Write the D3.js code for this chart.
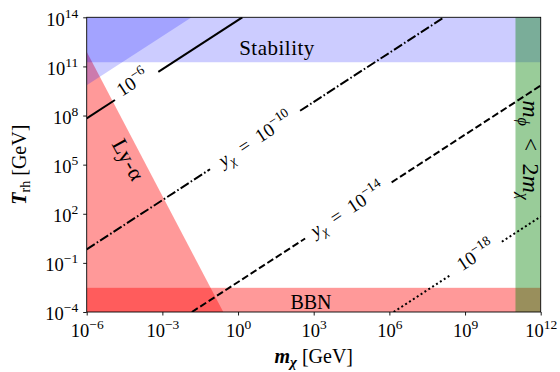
<!DOCTYPE html>
<html>
<head>
<meta charset="utf-8">
<script src="https://cdn.jsdelivr.net/npm/d3@7"></script>
<style>
  body { margin: 0; background: #fff; }
  text { font-family: "Liberation Serif", "DejaVu Serif", serif; fill: #000; }
</style>
</head>
<body>
<div id="chart"></div>
<script>
// tick exponents
var xTickExps = [-6, -3, 0, 3, 6, 9, 12];
var yTickExps = [14, 11, 8, 5, 2, -1, -4];

// excluded regions (GeV)
var stabilityT = [1.8e11, 1e14];
var bbnT = [1e-4, 3e-3];
var phiMassM = [1e11, 1e12];
var lyAlphaM = [1e-6, 0.26, 1e-6];
var lyAlphaT = [7.9e11, 1e-4, 1e-4];
var couplingM = [1e-6, 0.0145, 1e-6];
var couplingT = [7.2e9, 1e14, 1e14];

// contour lines of y_chi, log10 of m and T, two segments each (gap for label)
var lineExps = [-6, -10, -14, -18];
var lineLogM = [[-6, -4.88, -3.16, 0.17], [-6, -1.11, 2.46, 8.17], [-1.83, 2.66, 6.09, 12], [6.17, 8.41, 10.46, 12]];
var lineLogT = [[7.83, 8.95, 10.67, 14], [-0.17, 4.72, 8.29, 14], [-4, 0.49, 3.92, 9.83], [-4, -1.76, 0.29, 1.83]];
var lineDash = [null, "9.6,2.4,1.6,2.4", "7,3", "2,2.6"];
var lineWidth = [2, 2, 2, 2];
// label position (log10 m, log10 T) and whether "y_chi =" prefix is shown
var labelLogM = [-4.16, 0.71, 4.36, 9.44];
var labelLogT = [9.95, 6.5, 2.2, -0.6];
var labelPrefix = [false, true, true, false];

function main() {
    var width = 560, height = 372;
    var left = 86.7, right = 540.7, top = 17.3, bottom = 312;

    var svg = d3.select("#chart").append("svg")
        .attr("width", width)
        .attr("height", height);

    var x = d3.scaleLog().domain([1e-6, 1e12]).range([left, right]);
    var y = d3.scaleLog().domain([1e-4, 1e14]).range([bottom, top]);

    svg.append("clipPath").attr("id", "clip")
        .append("rect")
        .attr("x", left).attr("y", top)
        .attr("width", right - left).attr("height", bottom - top);

    var plot = svg.append("g").attr("clip-path", "url(#clip)");

    // Ly-alpha (red)
    plot.append("path")
        .datum(d3.range(lyAlphaM.length))
        .attr("d", d3.line().x(function(i){ return x(lyAlphaM[i]); }).y(function(i){ return y(lyAlphaT[i]); }))
        .attr("fill", "red").attr("fill-opacity", 0.4);

    // BBN band
    plot.append("rect")
        .attr("x", left).attr("width", right - left)
        .attr("y", y(bbnT[1])).attr("height", y(bbnT[0]) - y(bbnT[1]))
        .attr("fill", "red").attr("fill-opacity", 0.4);

    // stability band
    plot.append("rect")
        .attr("x", left).attr("width", right - left)
        .attr("y", y(stabilityT[1])).attr("height", y(stabilityT[0]) - y(stabilityT[1]))
        .attr("fill", "blue").attr("fill-opacity", 0.2);

    // large coupling region
    plot.append("path")
        .datum(d3.range(couplingM.length))
        .attr("d", d3.line().x(function(i){ return x(couplingM[i]); }).y(function(i){ return y(couplingT[i]); }))
        .attr("fill", "blue").attr("fill-opacity", 0.2);

    // m_phi < 2 m_chi
    plot.append("rect")
        .attr("x", x(phiMassM[0])).attr("width", x(phiMassM[1]) - x(phiMassM[0]))
        .attr("y", top).attr("height", bottom - top)
        .attr("fill", "green").attr("fill-opacity", 0.4);

    // y_chi lines
    var seg = d3.line()
        .x(function(d){ return x(Math.pow(10, d[0])); })
        .y(function(d){ return y(Math.pow(10, d[1])); });
    lineExps.forEach(function(e, k) {
        [[0, 1], [2, 3]].forEach(function(p) {
            plot.append("path")
                .datum(p.map(function(i){ return [lineLogM[k][i], lineLogT[k][i]]; }))
                .attr("d", seg)
                .attr("fill", "none")
                .attr("stroke", "black")
                .attr("stroke-width", lineWidth[k])
                .attr("stroke-dasharray", lineDash[k]);
        });

        var g = svg.append("g")
            .attr("transform", "translate(" + x(Math.pow(10, labelLogM[k])) + "," + y(Math.pow(10, labelLogT[k])) + ") rotate(-33)");
        var t = g.append("text")
            .attr("text-anchor", "middle")
            .attr("y", 5)
            .attr("font-size", "19px");
        if (labelPrefix[k]) {
            t.append("tspan").attr("font-style", "italic").text("y");
            t.append("tspan").attr("font-style", "italic").attr("font-size", "13px").attr("dy", 4).text("χ");
            t.append("tspan").attr("dy", -4).text("\u2002=\u200210");
        } else {
            t.append("tspan").text("10");
        }
        t.append("tspan").attr("font-size", "13.5px").attr("dy", -8).text("−" + (-e));
    });

    // region labels
    svg.append("text")
        .attr("x", 277).attr("y", y(stabilityT[1]) + 38)
        .attr("text-anchor", "middle").attr("font-size", "21px")
        .attr("letter-spacing", "0.5px")
        .text("Stability");

    svg.append("text")
        .attr("x", 311).attr("y", 309)
        .attr("text-anchor", "middle").attr("font-size", "20px")
        .text("BBN");

    svg.append("g")
        .attr("transform", "translate(128,160) rotate(61)")
        .append("text")
        .attr("text-anchor", "middle").attr("y", 7).attr("font-size", "22px")
        .attr("letter-spacing", "0.5px")
        .text("Ly-α");

    var mg = svg.append("g")
        .attr("transform", "translate(530,150) rotate(90)")
        .append("text")
        .attr("text-anchor", "middle").attr("y", 7).attr("font-size", "24px");
    mg.append("tspan").attr("font-style", "italic").text("m");
    mg.append("tspan").attr("font-style", "italic").attr("font-size", "16px").attr("dy", 5).text("ϕ");
    mg.append("tspan").attr("dy", -5).text("\u2002<\u20022");
    mg.append("tspan").attr("font-style", "italic").text("m");
    mg.append("tspan").attr("font-style", "italic").attr("font-size", "16px").attr("dy", 5).text("χ");

    // frame
    svg.append("rect")
        .attr("x", left).attr("y", top)
        .attr("width", right - left).attr("height", bottom - top)
        .attr("fill", "none").attr("stroke", "black").attr("stroke-width", 0.9);

    // axes
    var xAxis = svg.append("g")
        .attr("transform", "translate(0," + bottom + ")")
        .call(d3.axisBottom(x).tickValues(xTickExps.map(function(e){ return Math.pow(10, e); })).tickSize(3.5).tickSizeOuter(0));
    var yAxis = svg.append("g")
        .attr("transform", "translate(" + left + ",0)")
        .call(d3.axisLeft(y).tickValues(yTickExps.map(function(e){ return Math.pow(10, e); })).tickSize(3.5).tickSizeOuter(0));

    [xAxis, yAxis].forEach(function(a) {
        a.select(".domain").remove();
        a.selectAll(".tick line").attr("stroke-width", 0.9);
        a.selectAll(".tick text").attr("font-family", null).attr("font-size", "18.5px");
    });

    xAxis.selectAll(".tick text").each(function(d) {
        var t = d3.select(this).text(null).attr("dy", null).attr("y", 24.5);
        var e = Math.round(Math.log10(d));
        t.append("tspan").text("10");
        t.append("tspan").attr("font-size", "13.5px").attr("dy", -8).text(e < 0 ? "−" + (-e) : e);
    });
    yAxis.selectAll(".tick text").each(function(d) {
        var t = d3.select(this).text(null).attr("dy", null).attr("x", -8.5).attr("y", 7.7);
        var e = Math.round(Math.log10(d));
        t.append("tspan").text("10");
        t.append("tspan").attr("font-size", "13.5px").attr("dy", -8).text(e < 0 ? "−" + (-e) : e);
    });

    // axis titles
    var xt = svg.append("text")
        .attr("x", (left + right) / 2).attr("y", 363)
        .attr("text-anchor", "middle").attr("font-size", "20px");
    xt.append("tspan").attr("font-weight", "bold").attr("font-style", "italic").text("m");
    xt.append("tspan").attr("font-weight", "bold").attr("font-style", "italic").attr("font-size", "15px").attr("dy", 4).text("χ");
    xt.append("tspan").attr("dy", -4).text(" [GeV]");

    var yt = svg.append("text")
        .attr("transform", "translate(26," + ((top + bottom) / 2) + ") rotate(-90)")
        .attr("text-anchor", "middle").attr("font-size", "20px");
    yt.append("tspan").attr("font-weight", "bold").attr("font-style", "italic").text("T");
    yt.append("tspan").attr("font-size", "14px").attr("dy", 4).text("rh");
    yt.append("tspan").attr("dy", -4).text(" [GeV]");
}
main();
</script>
</body>
</html>
